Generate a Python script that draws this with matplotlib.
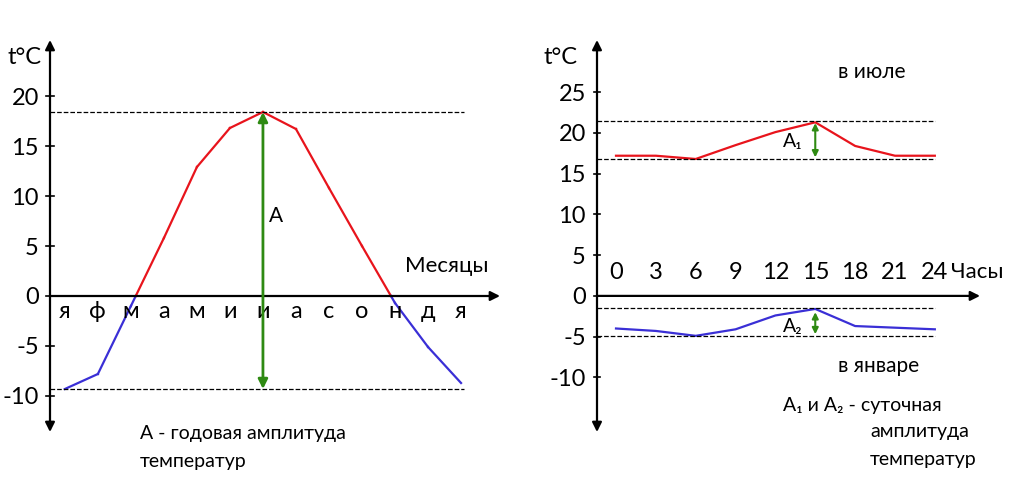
import numpy as np
import matplotlib.pyplot as plt

plt.rcParams['font.family'] = ['Lato', 'DejaVu Sans']
plt.rcParams['axes.unicode_minus'] = False

months = ['я', 'ф', 'м', 'а', 'м', 'и', 'и', 'а', 'с', 'о', 'н', 'д', 'я']
year_t = [-9.3, -7.8, -1.0, 5.8, 12.9, 16.8, 18.4, 16.7, 10.8, 5.0, -0.7, -5.1, -8.7]

hours = [0, 3, 6, 9, 12, 15, 18, 21, 24]
july_t = [17.2, 17.2, 16.8, 18.5, 20.1, 21.3, 18.4, 17.2, 17.2]
jan_t = [-4.0, -4.3, -4.9, -4.1, -2.4, -1.6, -3.7, -3.9, -4.1]

RED = '#e8141c'
BLUE = '#3a2fd6'
GREEN = '#2e8a12'
W, H = 1024, 480


def colored_line(ax, x, y):
    # split the line at zero: red above, blue below
    for i in range(len(x) - 1):
        x0, x1, y0, y1 = x[i], x[i + 1], y[i], y[i + 1]
        if y0 * y1 < 0:
            xc = x0 + (x1 - x0) * (-y0) / (y1 - y0)
            ax.plot([x0, xc], [y0, 0], color=RED if y0 > 0 else BLUE, lw=1.6)
            ax.plot([xc, x1], [0, y1], color=RED if y1 > 0 else BLUE, lw=1.6)
        else:
            c = RED if (y0 + y1) > 0 else BLUE
            ax.plot([x0, x1], [y0, y1], color=c, lw=1.6)


def setup(ax, xlim, ylim, yticks):
    ax.set_xlim(*xlim)
    ax.set_ylim(*ylim)
    for s in ['top', 'right', 'bottom', 'left']:
        ax.spines[s].set_visible(False)
    ax.set_xticks([])
    ax.set_yticks(yticks)
    ax.tick_params(axis='y', length=0, labelsize=17, pad=8)
    ax.patch.set_alpha(0)
    ax.annotate('', xy=(xlim[0], ylim[1]), xytext=(xlim[0], ylim[0]),
                arrowprops=dict(arrowstyle='<|-|>', color='black', lw=1.6,
                                shrinkA=0, shrinkB=0, mutation_scale=14))
    ax.annotate('', xy=(xlim[1], 0), xytext=(xlim[0], 0),
                arrowprops=dict(arrowstyle='-|>', color='black', lw=1.6,
                                shrinkA=0, shrinkB=0, mutation_scale=14))
    for t in yticks:
        ax.plot([xlim[0] - (xlim[1] - xlim[0]) * 0.008, xlim[0] + (xlim[1] - xlim[0]) * 0.008],
                [t, t], color='black', lw=1.2, clip_on=False)


fig = plt.figure(figsize=(W / 100, H / 100), dpi=100)

# left chart: annual course
ax1 = fig.add_axes([50 / W, 48 / H, 450 / W, 392 / H])
setup(ax1, (-0.45, 13.18), (-13.6, 25.6), [-10, -5, 0, 5, 10, 15, 20])
mx = np.arange(len(months))
colored_line(ax1, mx, year_t)
ax1.plot([-0.45, 12.1], [max(year_t)] * 2, 'k--', lw=0.9)
ax1.plot([-0.45, 12.1], [min(year_t)] * 2, 'k--', lw=0.9)
for i, m in enumerate(months):
    ax1.text(i, -1.6, m, ha='center', va='center', fontsize=17)
ax1.annotate('', xy=(6, max(year_t)), xytext=(6, min(year_t)),
             arrowprops=dict(arrowstyle='<|-|>', color=GREEN, lw=2,
                             shrinkA=0, shrinkB=0, mutation_scale=14))
ax1.text(6.4, 8, 'А', fontsize=15, va='center', ha='center')
ax1.text(10.3, 3, 'Месяцы', fontsize=16, va='center')

# right chart: daily course
ax2 = fig.add_axes([597 / W, 48 / H, 383 / W, 392 / H])
setup(ax2, (-1.43, 27.4), (-16.7, 31.4), [-10, -5, 0, 5, 10, 15, 20, 25])
ax2.plot(hours, july_t, color=RED, lw=1.6)
ax2.plot(hours, jan_t, color=BLUE, lw=1.6)
for v in [max(july_t) + 0.1, min(july_t), max(jan_t) + 0.1, min(jan_t)]:
    ax2.plot([-1.43, 24], [v, v], 'k--', lw=0.9)
for h in hours:
    ax2.text(h, 2.9, str(h), ha='center', va='center', fontsize=17)
ax2.text(25.2, 2.9, 'Часы', fontsize=16, va='center')
for a, b in [(17.0, 21.2), (-4.7, -2.0)]:
    ax2.annotate('', xy=(15, b), xytext=(15, a),
                 arrowprops=dict(arrowstyle='<|-|>', color=GREEN, lw=1.5,
                                 shrinkA=0, shrinkB=0, mutation_scale=9))
ax2.text(13.3, 18.9, 'А₁', fontsize=14, ha='center', va='center')
ax2.text(13.3, -3.7, 'А₂', fontsize=14, ha='center', va='center')

# labels in pixel coordinates
def ptext(x, y, s, **kw):
    fig.text(x / W, 1 - y / H, s, va='center', **kw)

ptext(8, 57, 't°C', fontsize=17)
ptext(543, 57, 't°C', fontsize=17)
ptext(140, 433, 'А - годовая амплитуда', fontsize=14)
ptext(140, 461, 'температур', fontsize=14)
ptext(838, 72, 'в июле', fontsize=15)
ptext(838, 366, 'в январе', fontsize=15)
ptext(783, 405, 'А₁ и А₂ - суточная', fontsize=14)
ptext(870, 432, 'амплитуда', fontsize=14)
ptext(870, 460, 'температур', fontsize=14)

fig.savefig('out.png', dpi=100)
